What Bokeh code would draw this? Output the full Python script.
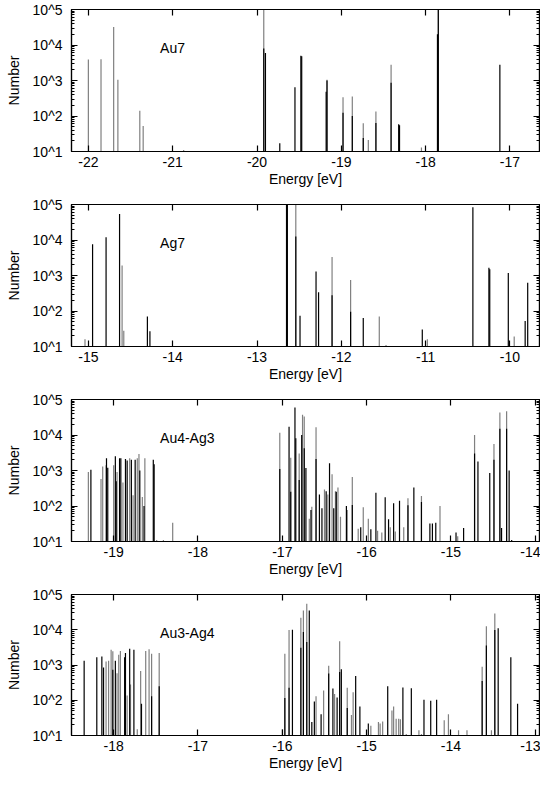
from bokeh.plotting import figure
from bokeh.models import Range1d, FixedTicker, LinearAxis, LogAxis, Label, ColumnDataSource
from bokeh.layouts import column
from bokeh.embed import file_html
from bokeh.resources import INLINE

FONT = "Liberation Sans"
GRAY = "#808080"
BLACK = "#000000"

# ---------------- data ----------------
names = ["Au7", "Ag7", "Au4-Ag3", "Au3-Ag4"]
x_limits = [(-22.2, -16.65), (-15.2, -9.65), (-19.5, -13.95), (-18.5, -12.95)]
x_ticks = [[-22, -21, -20, -19, -18, -17],
           [-15, -14, -13, -12, -11, -10],
           [-19, -18, -17, -16, -15, -14],
           [-18, -17, -16, -15, -14, -13]]
y_ticks = [10, 100, 1000, 10000, 100000]
y_tick_labels = ["10^1", "10^2", "10^3", "10^4", "10^5"]

# Au7
au7_gray_e = [-22.00, -21.85, -21.70, -21.65, -21.39, -21.35, -20.87, -19.92, -19.17,
              -18.98, -18.87, -18.74, -18.68, -18.59, -18.41, -18.05, -17.85]
au7_gray_n = [3900, 4000, 32000, 1050, 140, 52, 11, 100000, 1050,
              340, 355, 62, 21, 133, 2800, 13, 100000]
au7_black_e = [-19.92, -19.90, -19.73, -19.55, -19.48, -19.47, -19.18, -19.17, -18.98,
               -18.87, -18.74, -18.59, -18.41, -18.32, -18.31, -17.86, -17.85, -17.12]
au7_black_n = [8000, 6000, 17, 650, 5000, 4800, 480, 1000, 123,
               100, 24, 63, 870, 59, 55, 20000, 100000, 2800]

# Ag7
ag7_gray_e = [-15.04, -14.60, -14.58, -12.54, -12.11, -11.89, -11.55, -11.47, -10.98, -9.95]
ag7_gray_n = [16, 1900, 28, 100000, 3300, 750, 70, 11, 16, 19]
ag7_black_e = [-14.95, -14.79, -14.63, -14.30, -14.27, -12.65, -12.64, -12.54, -12.49,
               -12.30, -12.27, -12.11, -11.89, -11.74, -11.04, -10.44, -10.25, -10.24,
               -10.02, -9.82, -9.79]
ag7_black_n = [7600, 12000, 54000, 70, 27, 100000, 100000, 12500, 74,
               1300, 340, 280, 95, 63, 30, 83000, 1650, 1500,
               1180, 52, 620]

# Au4-Ag3
a43_gray_e = [-19.30, -19.15, -19.13, -19.09, -19.00, -18.96, -18.89, -18.81, -18.77,
              -18.72, -18.70, -18.66, -18.63, -18.49, -18.41, -18.30,
              -17.03, -16.90, -16.80, -16.76, -16.74, -16.68, -16.65, -16.60, -16.50,
              -16.46, -16.41, -16.37, -16.34, -16.31, -16.23, -16.17, -16.10, -16.04,
              -15.98, -15.87, -15.82, -15.72, -15.66, -15.56, -15.51, -15.35, -15.13,
              -14.92, -14.72, -14.49, -14.42, -14.34]
a43_gray_n = [900, 580, 1300, 1400, 1400, 900, 460, 2200, 200,
              2200, 2900, 180, 2200, 11, 11, 34,
              11500, 2300, 3000, 37000, 33000, 44, 96, 16600, 290,
              210, 790, 260, 330, 50, 77, 660, 23, 92,
              44, 20, 18, 25, 19, 25, 165, 190, 100,
              14, 10000, 5600, 43000, 47000]
a43_black_e = [-19.27, -19.085, -19.07, -18.98, -18.97, -18.93, -18.915, -18.86, -18.84,
               -18.79, -18.745, -18.69, -18.64, -18.53, -18.52,
               -17.03, -16.92, -16.90, -16.85, -16.84, -16.80, -16.77, -16.74, -16.72,
               -16.66, -16.60, -16.56, -16.53, -16.48, -16.44, -16.39, -16.36, -16.24,
               -16.17, -16.07, -15.95, -15.89, -15.78, -15.74, -15.68, -15.61, -15.51,
               -15.44, -15.35, -15.25, -15.22, -15.18, -14.94, -14.85,
               -14.72, -14.68, -14.54, -14.49, -14.42, -14.40, -14.34, -14.31, -14.28]
a43_black_n = [1050, 2200, 1200, 2500, 500, 2200, 2200, 2100, 1900,
               2000, 2000, 1000, 100, 2000, 1500,
               1100, 17000, 250, 60000, 8100, 540, 10000, 4200, 1180,
               77, 2100, 210, 86, 260, 1600, 86, 250, 100,
               107, 25, 22, 235, 175, 42, 120, 140, 105,
               330, 130, 32, 32, 34, 18, 24,
               3000, 1800, 850, 2000, 15000, 24, 15000, 1000, 11]

# Au3-Ag4
a34_gray_e = [-18.09, -18.06, -18.03, -18.01, -17.96, -17.94, -17.92, -17.84, -17.80,
              -17.72, -17.68, -17.62, -17.58, -17.55, -17.46,
              -16.00, -15.97, -15.92, -15.78, -15.75, -15.71, -15.60, -15.51, -15.45,
              -15.38, -15.32, -15.23, -15.18, -15.16, -14.95, -14.86, -14.84, -14.81,
              -14.70, -14.68, -14.65, -14.62, -14.60, -14.53, -14.38, -14.35, -14.08,
              -14.03, -13.91, -13.81, -13.63, -13.58, -13.52, -13.48]
a34_gray_n = [1260, 1330, 2700, 2450, 580, 1950, 2500, 137, 280,
              15, 680, 2500, 2800, 2100, 2200,
              15, 2100, 9800, 22000, 35000, 55000, 130, 190, 950,
              150, 4700, 225, 38, 170, 19, 24, 22, 25,
              51, 66, 30, 30, 29, 11, 14, 11, 27,
              40, 14, 14, 890, 12600, 14, 29000]
a34_black_e = [-18.35, -18.20, -18.14, -18.12, -18.01, -17.98, -17.87, -17.86, -17.81,
               -17.76, -17.67, -17.55, -17.46,
               -15.97, -15.92, -15.88, -15.78, -15.75, -15.71, -15.68, -15.65, -15.62,
               -15.54, -15.45, -15.40, -15.35, -15.32, -15.30, -15.23, -15.13, -15.08,
               -14.98, -14.75, -14.57, -14.47, -14.32, -14.24, -14.17,
               -13.63, -13.58, -13.48, -13.44, -13.29, -13.21]
a34_black_n = [1330, 1660, 1740, 850, 730, 1330, 1660, 2200, 2900,
               2700, 80, 130, 250,
               115, 225, 10000, 3100, 8700, 4500, 35000, 24, 92,
               40, 570, 215, 120, 630, 760, 60, 490, 66,
               22, 250, 230, 220, 103, 96, 103,
               350, 3600, 9800, 11000, 1650, 80]

series = [
    (au7_gray_e, au7_gray_n, au7_black_e, au7_black_n),
    (ag7_gray_e, ag7_gray_n, ag7_black_e, ag7_black_n),
    (a43_gray_e, a43_gray_n, a43_black_e, a43_black_n),
    (a34_gray_e, a34_gray_n, a34_black_e, a34_black_n),
]

# ---------------- styling helpers ----------------
minor_y = [m * d for d in (10, 100, 1000, 10000) for m in range(2, 10)]


def style_axis(ax, labels=True):
    ax.axis_line_color = "black"
    ax.axis_line_width = 1.2
    ax.major_tick_in = 6
    ax.major_tick_out = 0
    ax.minor_tick_in = 3
    ax.minor_tick_out = 0
    ax.major_tick_line_color = "black"
    ax.major_tick_line_width = 1.2
    ax.minor_tick_line_color = "black"
    ax.minor_tick_line_width = 1
    ax.major_label_text_font = FONT
    ax.major_label_text_font_size = "14px" if labels else "1px"
    ax.major_label_text_color = "black" if labels else None
    ax.axis_label_text_font = FONT
    ax.axis_label_text_font_size = "14px"
    ax.axis_label_text_font_style = "normal"
    ax.axis_label_text_color = "black"
    if not labels:
        ax.major_label_standoff = 0


figs = []
for i in range(4):
    last = (i == 3)
    ge, gn, be, bn = series[i]
    p = figure(width=540, height=188 if last else 195,
               x_range=Range1d(*x_limits[i]), y_range=Range1d(10, 1e5),
               y_axis_type="log", output_backend="svg", toolbar_location=None,
               min_border_left=71, min_border_right=1, min_border_top=9,
               min_border_bottom=37 if last else 44)
    p.background_fill_color = "white"
    p.border_fill_color = "white"
    p.outline_line_color = "black"
    p.outline_line_width = 1.2
    p.grid.visible = False

    base = p.y_range.start
    gsrc = ColumnDataSource(dict(x=ge, top=gn, bottom=[base] * len(ge)))
    bsrc = ColumnDataSource(dict(x=be, top=bn, bottom=[base] * len(be)))
    p.segment(x0="x", x1="x", y0="bottom", y1="top", source=gsrc,
              line_color=GRAY, line_width=1.2)
    p.segment(x0="x", x1="x", y0="bottom", y1="top", source=bsrc,
              line_color=BLACK, line_width=1.2)

    # bottom axis
    xa = p.xaxis[0]
    xa.ticker = FixedTicker(ticks=x_ticks[i])
    style_axis(xa)
    xa.minor_tick_line_color = None
    xa.major_label_overrides = {t: str(t) for t in x_ticks[i]}
    xa.major_label_standoff = 5
    xa.axis_label = "Energy [eV]"
    xa.axis_label_standoff = 1

    # left axis
    ya = p.yaxis[0]
    ya.ticker = FixedTicker(ticks=y_ticks, minor_ticks=minor_y)
    style_axis(ya)
    ya.major_label_overrides = dict(zip(y_ticks, y_tick_labels))
    ya.major_label_standoff = 9
    ya.axis_label = "Number"
    ya.axis_label_standoff = 8

    # top axis (ticks only)
    ta = LinearAxis(ticker=FixedTicker(ticks=x_ticks[i]))
    style_axis(ta, labels=False)
    ta.minor_tick_line_color = None
    p.add_layout(ta, "above")

    # right axis (ticks only)
    ra = LogAxis(ticker=FixedTicker(ticks=y_ticks, minor_ticks=minor_y))
    style_axis(ra, labels=False)
    p.add_layout(ra, "right")

    lab = Label(x=x_limits[i][0] + 1.05, y=8000, text=names[i],
                text_font=FONT, text_font_size="14px", text_baseline="middle",
                text_color="black")
    p.add_layout(lab)
    figs.append(p)

layout = column(*figs, spacing=0)
open("out.html", "w").write(file_html(layout, INLINE))
